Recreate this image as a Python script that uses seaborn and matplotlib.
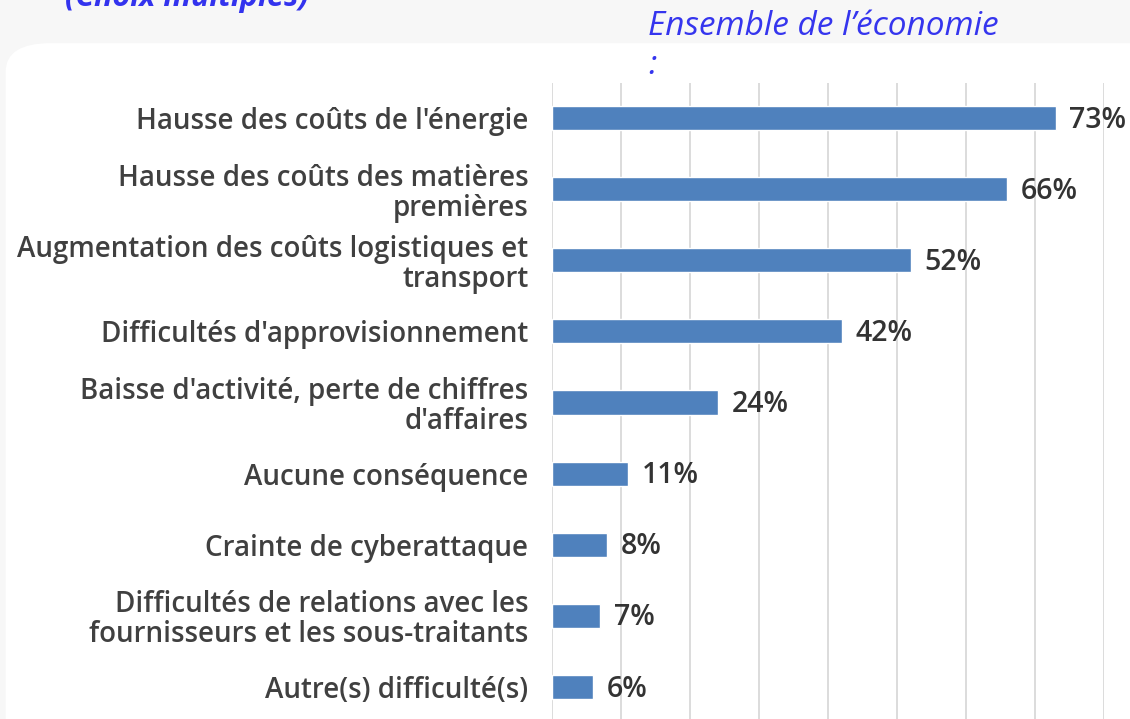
import seaborn as sns
import pandas as pd
import matplotlib.pyplot as plt
from matplotlib.patches import FancyBboxPatch

categories = [
    "Hausse des coûts de l'énergie",
    "Hausse des coûts des matières\npremières",
    "Augmentation des coûts logistiques et\ntransport",
    "Difficultés d'approvisionnement",
    "Baisse d'activité, perte de chiffres\nd'affaires",
    "Aucune conséquence",
    "Crainte de cyberattaque",
    "Difficultés de relations avec les\nfournisseurs et les sous-traitants",
    "Autre(s) difficulté(s)",
]
values = [73, 66, 52, 42, 24, 11, 8, 7, 6]
x_ticks = [0, 10, 20, 30, 40, 50, 60, 70, 80]

df = pd.DataFrame({'cat': categories, 'val': values})

sns.set_theme(style='white')
plt.rcParams['font.family'] = ['Open Sans', 'DejaVu Sans']

fig = plt.figure(figsize=(11.3, 7.19), dpi=100)
fig.patch.set_facecolor('#f7f7f7')

# fond blanc arrondi
fig.patches.append(FancyBboxPatch((0.005, -0.1), 1.2, 1.04, boxstyle='round,pad=0,rounding_size=0.04',
                                  transform=fig.transFigure, facecolor='white', edgecolor='none', zorder=-5))

ax = fig.add_axes([552 / 1130, -3.5 / 719, 552 / 1130, 640 / 719])
ax.set_facecolor('none')
sns.barplot(data=df, y='cat', x='val', orient='h', color='#4f81bd', saturation=1,
            width=0.34, ax=ax, zorder=3)

ax.set_xlim(0, 80)
ax.set_xticks(x_ticks)
ax.xaxis.grid(True, color='#d9d9d9', linewidth=1.3, zorder=0)
ax.set_xticklabels([])
ax.tick_params(axis='x', length=0)
ax.tick_params(axis='y', length=0, pad=17)
ax.set_xlabel('')
ax.set_ylabel('')
for s in ax.spines.values():
    s.set_visible(False)
for lab in ax.get_yticklabels():
    lab.set_fontsize(20)
    lab.set_color('#404040')
    lab.set_fontweight('semibold')
    lab.set_multialignment('right')
    lab.set_linespacing(1.05)

for i, v in enumerate(values):
    ax.text(v + 2.0, i + 0.03, f'{v}%', va='center', ha='left', fontsize=20.5,
            color='#333333', fontweight='semibold')

fig.text(65 / 1130, 1 + 2 / 719, '(Choix multiples)', fontsize=22, color='#3333ee',
         fontweight='bold', style='italic', ha='left', va='center')
fig.text(648 / 1130, 1 - 10 / 719, "Ensemble de l\u2019économie\n:", fontsize=24,
         color='#3535ee', style='italic', ha='left', va='top', linespacing=1.25)

plt.savefig('out.png', dpi=100)
